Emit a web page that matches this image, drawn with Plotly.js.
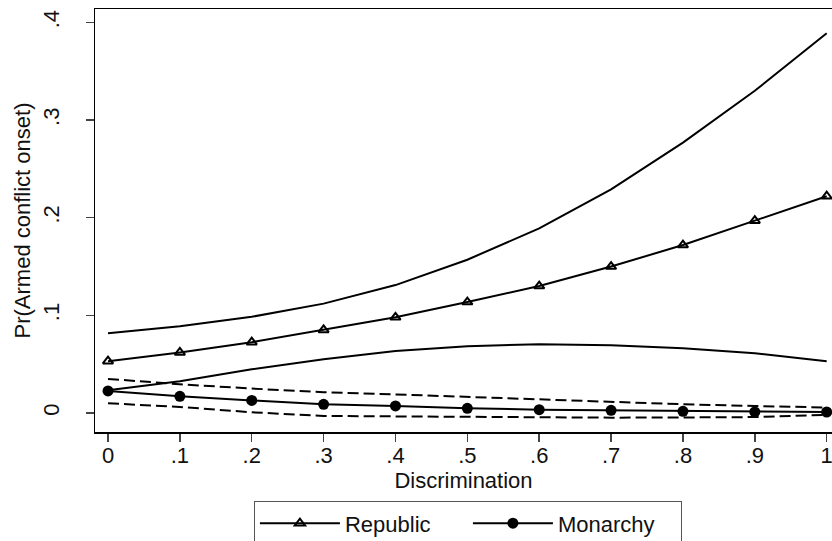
<!DOCTYPE html>
<html>
<head>
<meta charset="utf-8">
<script src="https://cdn.plot.ly/plotly-3.0.1.min.js"></script>
<style>html,body{margin:0;padding:0;background:#fff;}#chart{width:832px;height:541px;}</style>
</head>
<body>
<div id="chart"></div>
<script>
var discrimination = [0, 0.1, 0.2, 0.3, 0.4, 0.5, 0.6, 0.7, 0.8, 0.9, 1];
var xTickLabels = ['0', '.1', '.2', '.3', '.4', '.5', '.6', '.7', '.8', '.9', '1'];
var yTickVals = [0, 0.1, 0.2, 0.3, 0.4];
var yTickLabels = ['0', '.1', '.2', '.3', '.4'];

var republic      = [0.053, 0.062, 0.0725, 0.085, 0.098, 0.1136, 0.130, 0.150, 0.172, 0.197, 0.222];
var republicUpper = [0.0817, 0.0889, 0.0985, 0.112, 0.131, 0.157, 0.189, 0.229, 0.277, 0.330, 0.389];
var republicLower = [0.0233, 0.0325, 0.0448, 0.055, 0.0635, 0.0684, 0.0705, 0.0694, 0.0664, 0.0612, 0.053];

var monarchy      = [0.0226, 0.0171, 0.0128, 0.0089, 0.0072, 0.0048, 0.0034, 0.0027, 0.0017, 0.0011, 0.001];
var monarchyUpper = [0.0349, 0.0294, 0.025, 0.0212, 0.019, 0.0164, 0.014, 0.0113, 0.0089, 0.0072, 0.0055];
var monarchyLower = [0.0099, 0.0062, 0.0007, -0.003, -0.0035, -0.004, -0.0048, -0.0048, -0.0046, -0.0042, -0.002];

var FONT = 'Liberation Sans, Arial, sans-serif';
var black = '#000000';

var traces = [
  {x: discrimination, y: republicUpper, mode: 'lines', line: {color: black, width: 2}, showlegend: false, hoverinfo: 'skip'},
  {x: discrimination, y: republicLower, mode: 'lines', line: {color: black, width: 2}, showlegend: false, hoverinfo: 'skip'},
  {x: discrimination, y: monarchyUpper, mode: 'lines', line: {color: black, width: 2, dash: '11px,5px'}, showlegend: false, hoverinfo: 'skip'},
  {x: discrimination, y: monarchyLower, mode: 'lines', line: {color: black, width: 2, dash: '11px,5px'}, showlegend: false, hoverinfo: 'skip'},
  {x: discrimination, y: republic, name: 'Republic', mode: 'lines+markers',
   line: {color: black, width: 2},
   marker: {symbol: 'triangle-up-open', size: 9, color: black, line: {color: black, width: 2}}},
  {x: discrimination, y: monarchy, name: 'Monarchy', mode: 'lines+markers',
   line: {color: black, width: 2},
   marker: {symbol: 'circle', size: 11, color: black}}
];

var layout = {
  width: 832, height: 541,
  margin: {l: 95, r: 0, t: 9, b: 109, autoexpand: false},
  paper_bgcolor: '#ffffff', plot_bgcolor: '#ffffff',
  font: {family: FONT, size: 22, color: '#111111'},
  showlegend: true,
  xaxis: {
    range: [-0.0181, 1.0074],
    tickvals: discrimination, ticktext: xTickLabels,
    ticks: 'outside', ticklen: 8, tickwidth: 1.5, tickcolor: '#444',
    showline: true, linecolor: black, linewidth: 1.5, mirror: true,
    showgrid: false, zeroline: false, ticklabeloverflow: 'allow', ticklabelstandoff: -5,
    tickfont: {family: FONT, size: 22, color: '#111'},
    title: {text: 'Discrimination', font: {family: FONT, size: 22, color: '#111'}, standoff: 0}
  },
  yaxis: {
    range: [-0.0195, 0.4138],
    tickvals: yTickVals, ticktext: yTickLabels, tickangle: -90,
    ticks: 'outside', ticklen: 8, tickwidth: 1.5, tickcolor: '#444',
    showline: true, linecolor: black, linewidth: 1.5, mirror: false,
    showgrid: false, zeroline: false, ticklabelstandoff: 18,
    tickfont: {family: FONT, size: 22, color: '#111'},
    title: {text: 'Pr(Armed conflict onset)', font: {family: FONT, size: 22, color: '#111'}, standoff: 2}
  },
  legend: {
    orientation: 'h', x: 0.506, xanchor: 'center', y: -0.164, yanchor: 'top',
    bordercolor: '#555', borderwidth: 1, bgcolor: '#ffffff',
    font: {family: FONT, size: 22, color: '#111'},
    itemwidth: 80, entrywidth: 118, traceorder: 'normal'
  }
};

Plotly.newPlot('chart', traces, layout, {staticPlot: true, displayModeBar: false});
</script>
</body>
</html>
